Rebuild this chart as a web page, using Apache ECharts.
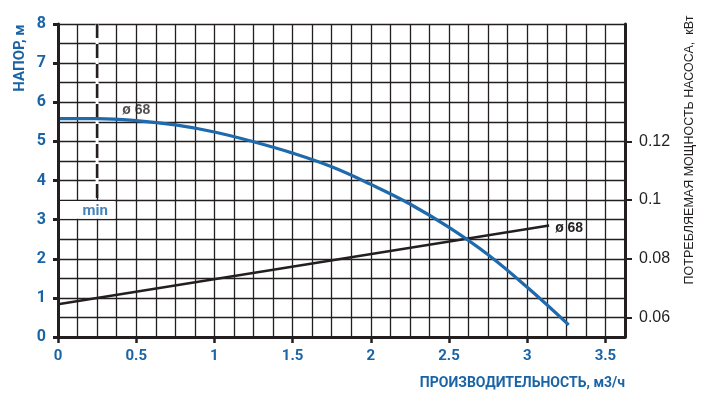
<!DOCTYPE html>
<html><head><meta charset="utf-8">
<script src="https://cdn.jsdelivr.net/npm/echarts@6/dist/echarts.min.js"></script>
<style>html,body{margin:0;padding:0;background:#fff}#c{width:710px;height:408px}</style>
</head><body><div id="c"></div>
<script>
// Flow, m3/h
var headFlow = [0, 0.25, 0.5, 0.75, 1.0, 1.25, 1.5, 1.75, 2.0, 2.25, 2.5, 2.75, 3.0, 3.265];
// Head, m
var headValues = [5.58, 5.58, 5.53, 5.42, 5.24, 4.99, 4.70, 4.35, 3.90, 3.40, 2.80, 2.10, 1.27, 0.31];
// Power consumption, kW
var powerFlow = [0, 3.14];
var powerValues = [0.0645, 0.0913];
// Minimum-flow marker
var minFlow = 0.25;
var minHeadRange = [3.5, 8];
var minLabelBox = [[0, 3.025], [0.363, 3.475]];
// Tick labels
var xTickLabels = [0, 0.5, 1, 1.5, 2, 2.5, 3, 3.5];
var yTickLabels = [0, 1, 2, 3, 4, 5, 6, 7, 8];
var powerTickLabels = [0.06, 0.08, 0.1, 0.12];
var curveName = 'ø 68';
var headLabelFlow = 0.5;

var BLUE = '#1a64a6';
var INK = '#231f20';
var chart = echarts.init(document.getElementById('c'));
var headData = headFlow.map(function (q, i) { return [q, headValues[i]]; });
var powerData = powerFlow.map(function (q, i) { return [q, powerValues[i]]; });
var minData = [[minFlow, minHeadRange[0] + 0.05], [minFlow, minHeadRange[1]]];
var gridLine = { show: true, lineStyle: { color: INK, width: 1.3 } };
var labelFont = { color: INK, fontFamily: 'Liberation Sans', fontWeight: 'bold', fontSize: 14 };
chart.setOption({
  animation: false,
  grid: { left: 58, right: 85, top: 24, bottom: 71 },
  xAxis: [{
    type: 'value', min: 0, max: 3.625, interval: 0.5,
    axisLine: { show: true, lineStyle: { color: INK, width: 3 } },
    axisTick: { show: true, inside: false, length: 6, customValues: xTickLabels, lineStyle: { color: INK, width: 2.5 } },
    axisLabel: { customValues: xTickLabels, color: BLUE, fontFamily: 'Roboto', fontWeight: 'bold', fontSize: 15, margin: 12 },
    splitLine: { show: false }, z: 5
  }, {
    type: 'value', min: 0, max: 3.625, interval: 0.125,
    axisLine: { show: false }, axisTick: { show: false }, axisLabel: { show: false },
    splitLine: gridLine
  }],
  yAxis: [{
    type: 'value', min: 0, max: 8, interval: 1,
    axisLine: { show: true, lineStyle: { color: INK, width: 3 } },
    axisTick: { show: true, length: 5, customValues: yTickLabels, lineStyle: { color: INK, width: 3 } },
    axisLabel: { customValues: yTickLabels, color: BLUE, fontFamily: 'Roboto', fontWeight: 'bold', fontSize: 16, margin: 12 },
    splitLine: { show: false }, z: 5
  }, {
    type: 'value', position: 'right', min: 0.16 / 3, max: 0.16,
    axisLine: { show: true, onZero: false, lineStyle: { color: INK, width: 3 } },
    axisTick: { show: true, length: 7, customValues: powerTickLabels, lineStyle: { color: INK, width: 2 } },
    axisLabel: { customValues: powerTickLabels, color: INK, fontFamily: 'Liberation Sans', fontSize: 16, margin: 14,
      formatter: function (v) { return String(+v.toFixed(2)); } },
    splitLine: { show: false }, z: 5
  }, {
    type: 'value', min: 0, max: 8, interval: 0.5,
    axisLine: { show: false }, axisTick: { show: false }, axisLabel: { show: false },
    splitLine: gridLine
  }],
  series: [{
    type: 'line', name: 'minBack', data: minData, symbol: 'none', silent: true,
    lineStyle: { color: '#ffffff', width: 3 }, z: 2,
    markArea: {
      silent: true,
      itemStyle: { color: '#ffffff', opacity: 1 },
      data: [[{ coord: minLabelBox[0] }, { coord: minLabelBox[1] }]]
    }
  }, {
    type: 'line', name: 'min', data: minData, symbol: 'none',
    lineStyle: { color: INK, width: 2.6, type: [14, 6] }, z: 3
  }, {
    type: 'line', name: 'head', data: headData, smooth: 0.4, symbol: 'none',
    lineStyle: { color: '#1f6aac', width: 3.2 }, z: 4
  }, {
    type: 'line', name: 'power', yAxisIndex: 1, data: powerData, symbol: 'none',
    lineStyle: { color: INK, width: 2.5 },
    endLabel: Object.assign({ show: true, formatter: curveName, distance: 6, offset: [0, 3] }, labelFont),
    z: 3
  }, {
    type: 'scatter', name: 'labels', symbolSize: 0, silent: true, z: 6,
    data: [
      { value: [headLabelFlow, headValues[headFlow.indexOf(headLabelFlow)]],
        label: Object.assign({ show: true, position: 'top', distance: 3, formatter: curveName }, labelFont) },
      { value: [minFlow, 3.25],
        label: { show: true, position: 'inside', offset: [-2, 1], formatter: 'min', color: BLUE, fontFamily: 'Roboto', fontWeight: 'bold', fontSize: 15 } }
    ]
  }],
  graphic: [{
    type: 'text', x: 20, y: 58, rotation: Math.PI / 2,
    style: { text: 'НАПОР, м', fill: BLUE, font: 'bold 15px Roboto', align: 'center', verticalAlign: 'middle' }
  }, {
    type: 'text', x: 625, y: 383,
    style: { text: 'ПРОИЗВОДИТЕЛЬНОСТЬ, м3/ч', fill: BLUE, font: 'bold 14px Roboto', align: 'right', verticalAlign: 'middle' }
  }, {
    type: 'text', x: 690, y: 150, rotation: Math.PI / 2,
    style: { text: 'ПОТРЕБЛЯЕМАЯ МОЩНОСТЬ НАСОСА,  кВт', fill: INK, font: '12.5px "Liberation Sans"', align: 'center', verticalAlign: 'middle' }
  }]
});
</script></body></html>
